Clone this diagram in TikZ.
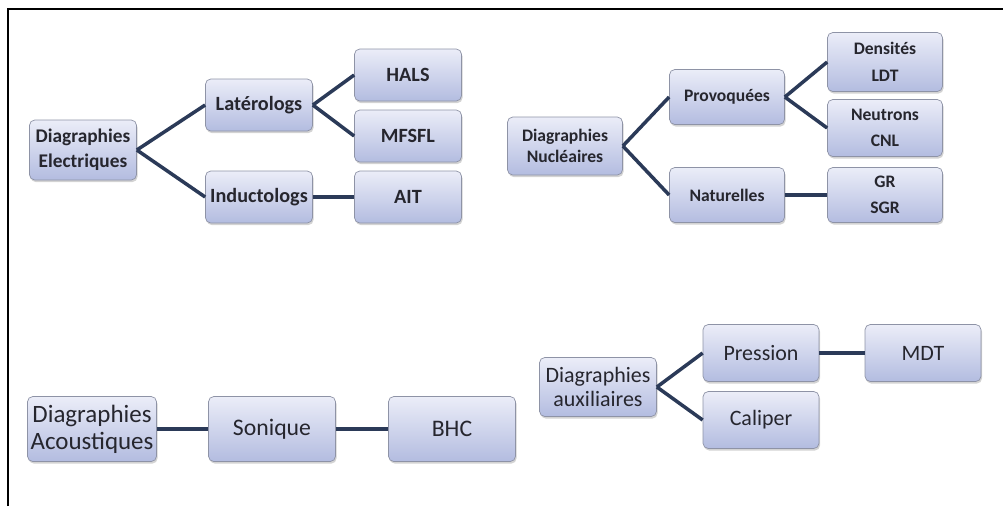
\documentclass[tikz,border=0pt]{standalone}
\usepackage{fontspec}
\setmainfont{Carlito}
\usetikzlibrary{shadows}

\definecolor{boxtop}{HTML}{EBEDF8}
\definecolor{boxbot}{HTML}{B3BCE0}
\definecolor{boxline}{HTML}{8E93A6}
\definecolor{linkcol}{HTML}{2B3A58}
\definecolor{txtcol}{HTML}{26262E}

\begin{document}
\begin{tikzpicture}[
  box/.style={draw=boxline, rounded corners=3pt, top color=boxtop, bottom color=boxbot,
    drop shadow={opacity=0.35, shadow xshift=0.6pt, shadow yshift=-1.2pt},
    text=txtcol, align=center, inner sep=1pt},
  small/.style={box, font=\bfseries\fontsize{11.5}{14}\selectfont, minimum width=2.14cm, minimum height=1.04cm},
  nucl/.style={box, font=\bfseries\fontsize{10}{15}\selectfont, minimum width=2.3cm, minimum height=1.1cm},
  large/.style={box, font=\fontsize{13.5}{15}\selectfont, minimum width=2.54cm, minimum height=1.3cm},
  aux/.style={box, font=\fontsize{12.5}{14}\selectfont, minimum width=2.32cm, minimum height=1.14cm},
  link/.style={draw=linkcol, line width=2pt}]
\useasboundingbox (0,0) rectangle (20.06,-10.12);
\draw[line width=0.8pt] (0.16,-10.12) -- (0.16,-0.18) -- (20.06,-0.18);

% electrical logs
\node[small, minimum height=1.2cm, font=\bfseries\fontsize{11}{14}\selectfont] (elec) at (1.66,-3.0) {Diagraphies\\Electriques};
\node[small] (lat) at (5.18,-2.1) {Latérologs};
\node[small] (ind) at (5.18,-3.94) {Inductologs};
\node[small] (hals) at (8.16,-1.5) {HALS};
\node[small] (mfsfl) at (8.16,-2.72) {MFSFL};
\node[small] (ait) at (8.16,-3.94) {AIT};
\draw[link] (elec.east) -- (lat.west);
\draw[link] (elec.east) -- (ind.west);
\draw[link] (lat.east) -- (hals.west);
\draw[link] (lat.east) -- (mfsfl.west);
\draw[link] (ind.east) -- (ait.west);

% nuclear logs
\node[nucl, minimum height=1.16cm, font=\bfseries\fontsize{10}{12}\selectfont] (nuc) at (11.3,-2.92) {Diagraphies\\Nucléaires};
\node[nucl] (prov) at (14.54,-1.94) {Provoquées};
\node[nucl] (nat) at (14.54,-3.9) {Naturelles};
\node[nucl, minimum height=1.18cm] (dens) at (17.7,-1.24) {Densités\\LDT};
\node[nucl, minimum height=1.14cm] (neut) at (17.7,-2.56) {Neutrons\\CNL};
\node[nucl] (gr) at (17.7,-3.9) {GR\\SGR};
\draw[link] (nuc.east) -- (prov.west);
\draw[link] (nuc.east) -- (nat.west);
\draw[link] (prov.east) -- (dens.west);
\draw[link] (prov.east) -- (neut.west);
\draw[link] (nat.east) -- (gr.west);

% acoustic logs
\node[large, minimum width=2.58cm, font=\fontsize{14.2}{15.5}\selectfont] (acou) at (1.84,-8.58) {Diagraphies\\Acoustiques};
\node[large] (son) at (5.44,-8.58) {Sonique};
\node[large] (bhc) at (9.04,-8.58) {BHC};
\draw[link] (acou.east) -- (son.west);
\draw[link] (son.east) -- (bhc.west);

% auxiliary logs
\node[aux, minimum width=2.34cm, minimum height=1.18cm] (auxl) at (11.96,-7.74) {Diagraphies\\auxiliaires};
\node[aux] (pres) at (15.22,-7.06) {Pression};
\node[aux] (cal) at (15.22,-8.4) {Caliper};
\node[aux] (mdt) at (18.46,-7.06) {MDT};
\draw[link] (auxl.east) -- (pres.west);
\draw[link] (auxl.east) -- (cal.west);
\draw[link] (pres.east) -- (mdt.west);
\end{tikzpicture}
\end{document}
